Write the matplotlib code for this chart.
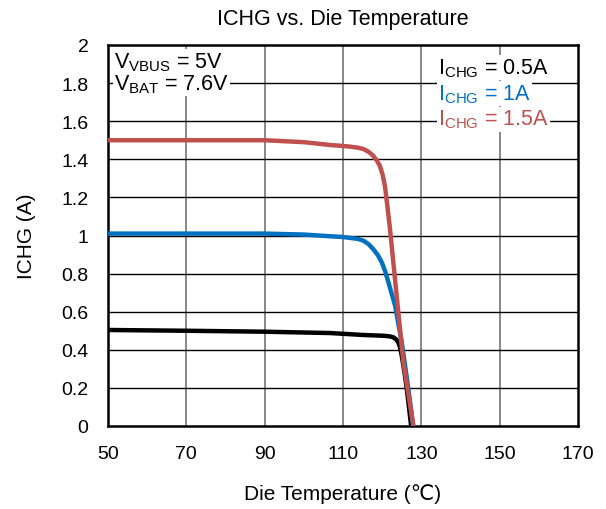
import matplotlib
matplotlib.use("Agg")
import matplotlib.pyplot as plt

plt.rcParams['font.family'] = ['Liberation Sans', 'DejaVu Sans']
plt.rcParams['mathtext.fontset'] = 'custom'
plt.rcParams['mathtext.rm'] = 'Liberation Sans'

# die temperature (C) and charge current (A)
temp_05 = [50, 70, 90, 106.7, 115, 120, 121.8, 122.8, 123.5, 124.1, 124.6, 125.0, 125.7, 126.3, 127.4]
ichg_05 = [0.504, 0.50, 0.495, 0.488, 0.478, 0.474, 0.471, 0.466, 0.456, 0.44, 0.41, 0.369, 0.28, 0.194, 0.0]

temp_10 = [50, 70, 90, 100, 106.7, 110, 112, 113.8, 115.2, 116.5, 117.7, 118.9, 119.9, 120.8,
           121.6, 123.3, 125.0, 126.7, 127.9]
ichg_10 = [1.01, 1.01, 1.01, 1.005, 0.996, 0.992, 0.987, 0.982, 0.973, 0.955, 0.929, 0.897, 0.859, 0.81,
           0.754, 0.632, 0.44, 0.194, 0.0]

temp_15 = [50, 70, 90, 100, 106.7, 110, 112, 113.8, 115.2, 116.5, 117.7, 118.6, 119.4, 120.1,
           120.7, 121.3, 122.0, 123.7, 125.4, 128.0]
ichg_15 = [1.50, 1.50, 1.50, 1.49, 1.475, 1.47, 1.466, 1.461, 1.454, 1.44, 1.419, 1.395, 1.366, 1.32,
           1.26, 1.16, 1.034, 0.684, 0.335, 0.0]

xticks = [50, 70, 90, 110, 130, 150, 170]
yticks = [0, 0.2, 0.4, 0.6, 0.8, 1, 1.2, 1.4, 1.6, 1.8, 2]
ytick_labels = ['0', '0.2', '0.4', '0.6', '0.8', '1', '1.2', '1.4', '1.6', '1.8', '2']

fig = plt.figure(figsize=(6.06, 5.10), dpi=100)
ax = fig.add_axes([108 / 606, 1 - 427 / 510, 470 / 606, 381 / 510])

ax.plot(temp_05, ichg_05, color='black', lw=3.2, solid_capstyle='butt', solid_joinstyle='round', zorder=3)
ax.plot(temp_10, ichg_10, color='#0070C0', lw=3.2, solid_capstyle='butt', solid_joinstyle='round', zorder=3)
ax.plot(temp_15, ichg_15, color='#C0504D', lw=3.2, solid_capstyle='butt', solid_joinstyle='round', zorder=4)

ax.set_xlim(50, 170)
ax.set_ylim(0, 2)
ax.set_xticks(xticks)
ax.set_yticks(yticks)
ax.set_yticklabels(ytick_labels)
ax.tick_params(axis='both', labelsize=14, length=0)
ax.tick_params(axis='y', pad=14)
ax.tick_params(axis='x', pad=14)

for x in xticks[1:-1]:
    ax.axvline(x, color='#7f7f7f', lw=1.3, zorder=1)
for y in yticks[1:-1]:
    ax.axhline(y, color='black', lw=1.0, zorder=1)

for s in ax.spines.values():
    s.set_linewidth(1.8)

ax.set_xlabel('Die Temperature (\u2103)', fontsize=15, labelpad=15)
ax.set_ylabel('ICHG (A)', fontsize=15, labelpad=18)
ax.set_title('ICHG vs. Die Temperature', fontsize=15.5, pad=15)

ax.text(51.5, 1.97, r'V$_{\mathrm{VBUS}}$ = 5V' + '\n' + r'V$_{\mathrm{BAT}}$ = 7.6V',
        fontsize=15.5, va='top', ha='left', linespacing=0.92,
        bbox=dict(facecolor='white', edgecolor='none', pad=1), zorder=5)

ax.text(134.3, 1.94, r'I$_{\mathrm{CHG}}$ = 0.5A', fontsize=15.5, color='black',
        va='top', ha='left', bbox=dict(facecolor='white', edgecolor='none', pad=1), zorder=5)
ax.text(134.3, 1.805, r'I$_{\mathrm{CHG}}$ = 1A', fontsize=15.5, color='#0070C0',
        va='top', ha='left', bbox=dict(facecolor='white', edgecolor='none', pad=1), zorder=5)
ax.text(134.3, 1.67, r'I$_{\mathrm{CHG}}$ = 1.5A', fontsize=15.5, color='#C0504D',
        va='top', ha='left', bbox=dict(facecolor='white', edgecolor='none', pad=1), zorder=5)

fig.savefig('out.png', dpi=100)
